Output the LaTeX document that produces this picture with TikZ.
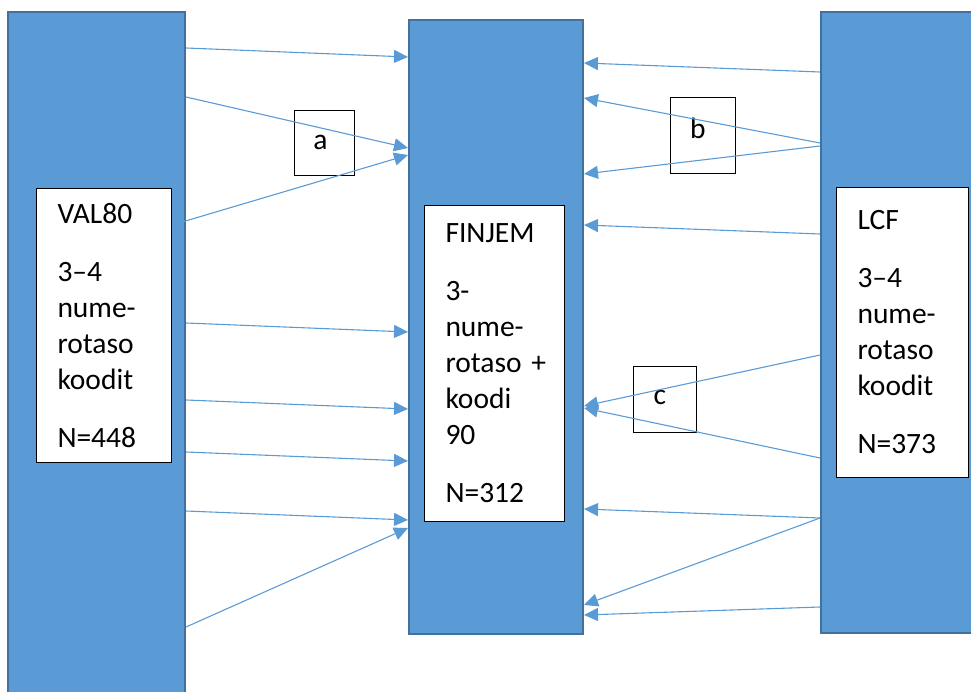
\documentclass[tikz,border=0pt]{standalone}
\usepackage{fontspec}
\setmainfont{Carlito}
\usetikzlibrary{arrows.meta}
\definecolor{barblue}{HTML}{5B9BD5}
\definecolor{baredge}{HTML}{41719C}
\begin{document}
\begin{tikzpicture}[x=1pt,y=-1pt,
  bar/.style={draw=baredge, fill=barblue, line width=2pt, anchor=north west, inner sep=0pt},
  infobox/.style={draw=black, fill=white, line width=1pt, anchor=north west, align=left,
    inner xsep=21pt, inner ysep=0pt, font=\fontsize{29.5}{36}\selectfont},
  tag/.style={draw=black, fill=white, line width=0.9pt, anchor=north west, inner sep=0pt},
  taglabel/.style={font=\fontsize{29.5}{36}\selectfont, inner sep=0pt},
  flow/.style={draw=barblue, line width=1.1pt, -{Triangle[length=14pt,width=13pt]}}]
\useasboundingbox (0,0) rectangle (971,692);
\clip (0,0) rectangle (971,692);

% the three classification columns
\node[bar, minimum width=177pt, minimum height=690pt] (L) at (7,11) {};
\node[bar, minimum width=174pt, minimum height=614pt] (M) at (408,19) {};
\node[bar, minimum width=170pt, minimum height=621pt] (R) at (820,11) {};

% descriptions inside the columns
\node[infobox, text width=93pt, minimum width=135pt, minimum height=274pt] (V) at (36,188)
  {VAL80\\[22pt] 3–4\\ nume-\\ rotaso\\ koodit\\[22pt] N=448};
\node[infobox, text width=98pt, minimum width=140pt, minimum height=316pt] (F) at (424,205)
  {FINJEM\\[22pt] 3-\\ nume-\\ rotaso~+\\ koodi\\ 90\\[22pt] N=312};
\node[infobox, text width=90pt, minimum width=132pt, minimum height=290pt] (C) at (836,187)
  {LCF\\[22pt] 3–4\\ nume-\\ rotaso\\ koodit\\[22pt] N=373};

% labelled boxes between the columns (the arrows run over them)
\node[tag, minimum width=60pt, minimum height=65pt,
  label={[taglabel, xshift=-4pt, yshift=1pt]center:a}] (ta) at (294,110) {};
\node[tag, minimum width=65pt, minimum height=76pt,
  label={[taglabel, xshift=-5pt, yshift=7pt]center:b}] (tb) at (670,97) {};
\node[tag, minimum width=63pt, minimum height=66pt,
  label={[taglabel, xshift=-5pt, yshift=2pt]center:c}] (tc) at (633,366) {};

% VAL80 -> FINJEM
\draw[flow] ([yshift=-37pt]L.north east) -- ([yshift=-38pt]M.north west);
\draw[flow] ([yshift=-86pt]L.north east) -- ([yshift=-129pt]M.north west);
\draw[flow] ([yshift=-37pt]V.north east) -- ([yshift=-136pt]M.north west);
\draw[flow] ([yshift=-312pt]L.north east) -- ([yshift=-313pt]M.north west);
\draw[flow] ([yshift=-389pt]L.north east) -- ([yshift=-390pt]M.north west);
\draw[flow] ([yshift=-441pt]L.north east) -- ([yshift=-442pt]M.north west);
\draw[flow] ([yshift=-500pt]L.north east) -- ([yshift=-501pt]M.north west);
\draw[flow] ([yshift=-616pt]L.north east) -- ([yshift=-509pt]M.north west);

% LCF -> FINJEM
\draw[flow] ([yshift=-61pt]R.north west) -- ([yshift=-44pt]M.north east);
\draw[flow] ([yshift=-132pt]R.north west) -- ([yshift=-79pt]M.north east);
\draw[flow] ([yshift=-135pt]R.north west) -- ([yshift=-155pt]M.north east);
\draw[flow] ([yshift=-223pt]R.north west) -- ([yshift=-206pt]M.north east);
\draw[flow] ([yshift=-344pt]R.north west) -- ([yshift=-387pt]M.north east);
\draw[flow] ([yshift=-447pt]R.north west) -- ([yshift=-389pt]M.north east);
\draw[flow] ([yshift=-507pt]R.north west) -- ([yshift=-490pt]M.north east);
\draw[flow] ([yshift=-507pt]R.north west) -- ([yshift=-586pt]M.north east);
\draw[flow] ([yshift=-596pt]R.north west) -- ([yshift=-596pt]M.north east);
\end{tikzpicture}
\end{document}
